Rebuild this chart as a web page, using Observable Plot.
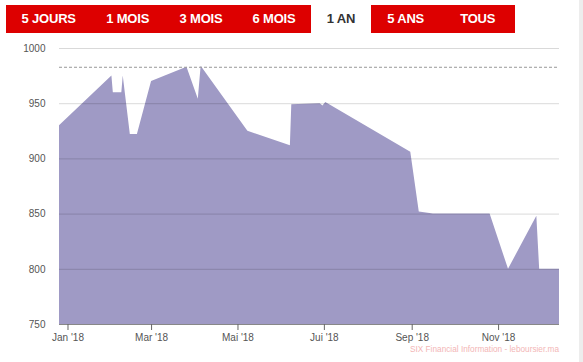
<!DOCTYPE html>
<html>
<head>
<meta charset="utf-8">
<script src="https://cdn.jsdelivr.net/npm/d3@7"></script>
<script src="https://cdn.jsdelivr.net/npm/@observablehq/plot@0.6"></script>
<style>
  html, body { margin: 0; padding: 0; background: #fff; }
  #wrap { position: relative; width: 583px; height: 362px; overflow: hidden; font-family: "Liberation Sans", Arial, sans-serif; }
  .bar { position: absolute; top: 5px; height: 28px; background: #dd0000; }
  .btn { position: absolute; top: 5px; height: 28px; line-height: 28px; transform: translateX(-50%); font-weight: bold; font-size: 13px; color: #fff; white-space: nowrap; letter-spacing: -0.2px; }
  .btn.active { color: #333; }
  #strip { position: absolute; left: 579px; top: 0; width: 4px; height: 362px; background: #ededed; }
  #chart { position: absolute; left: 0; top: 40px; }
</style>
</head>
<body>
<div id="wrap">
  <div class="bar" style="left:6px;width:305px"></div>
  <div class="bar" style="left:371px;width:144px"></div>
  <div id="buttons"></div>
  <div id="strip"></div>
  <div id="chart"></div>
</div>
<script>
// ---- data ----
const buttonLabels = ["5 JOURS", "1 MOIS", "3 MOIS", "6 MOIS", "1 AN", "5 ANS", "TOUS"];
const activeButton = "1 AN";

const dates = ["2017-12-26","2018-02-01","2018-02-02","2018-02-08","2018-02-09","2018-02-14","2018-02-19","2018-03-01","2018-03-26","2018-04-03","2018-04-05","2018-05-08","2018-06-07","2018-06-08","2018-06-28","2018-06-30","2018-07-02","2018-08-31","2018-09-06","2018-09-16","2018-10-26","2018-11-08","2018-11-28","2018-11-30","2018-12-14"];
const values = [930,975,960,960,975,922,922,970,983,954,984,925,912,949,950,948,951,906,852,850,850,800,848,800,800];

const referenceLevel = 983;
const yTicks = [750, 800, 850, 900, 950, 1000];
const xTickDates = ["2018-01-01","2018-03-01","2018-05-01","2018-07-01","2018-09-01","2018-11-01"];
const xTickLabels = ["Jan '18", "Mar '18", "Mai '18", "Jui '18", "Sep '18", "Nov '18"];
const xDomain = ["2017-12-26", "2018-12-14"];
const sourceText = "SIX Financial Information - leboursier.ma";

// ---- buttons ----
const btnCenters = [48.7, 127.7, 201, 274, 341, 405.7, 477.7];
const btnBox = document.getElementById("buttons");
buttonLabels.forEach((t, i) => {
  const s = document.createElement("div");
  s.className = "btn" + (t === activeButton ? " active" : "");
  s.style.left = btnCenters[i] + "px";
  s.textContent = t;
  btnBox.appendChild(s);
});

// ---- chart ----
const data = dates.map((d, i) => ({date: new Date(d), value: values[i]}));
const tickDates = xTickDates.map(d => new Date(d));

const chart = Plot.plot({
  width: 583,
  height: 322,
  marginLeft: 59,
  marginRight: 24,
  marginTop: 8,
  marginBottom: 38,
  style: {fontFamily: "'Liberation Sans', Arial, sans-serif", fontSize: "10px", color: "#555", background: "transparent"},
  x: {type: "utc", domain: xDomain.map(d => new Date(d)), label: null},
  y: {domain: [750, 1000], label: null},
  marks: [
    Plot.areaY(data, {x: "date", y1: 750, y2: "value", fill: "#9f9ac5"}),
    Plot.gridY(yTicks.filter(v => v > 750), {stroke: "#000", strokeOpacity: 0.15}),
    Plot.ruleY([referenceLevel], {stroke: "#999", strokeDasharray: "3,2"}),
    Plot.ruleY([750], {stroke: "#888"}),
    Plot.axisY(yTicks, {tickSize: 0, tickPadding: 14, label: null, fill: "#555", tickFormat: d => String(d)}),
    Plot.axisX(tickDates, {tickSize: 6, tickPadding: 3, stroke: "#666", fill: "#555", label: null,
      tickFormat: (d, i) => xTickLabels[i]})
  ]
});
document.getElementById("chart").appendChild(chart);

d3.select(chart).append("text")
  .attr("x", 559).attr("y", 309)
  .attr("text-anchor", "end")
  .attr("dominant-baseline", "middle")
  .attr("font-size", 9.5)
  .attr("font-family", "'Liberation Sans', Arial, sans-serif")
  .attr("fill", "#f3b6b6")
  .attr("textLength", 149)
  .attr("lengthAdjust", "spacingAndGlyphs")
  .text(sourceText);
</script>
</body>
</html>
